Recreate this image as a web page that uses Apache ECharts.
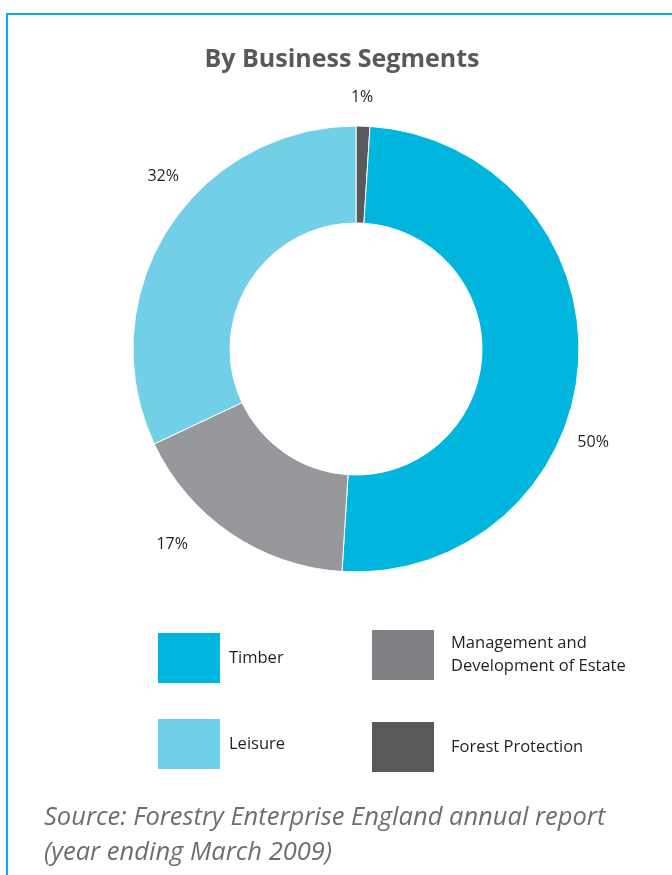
<!DOCTYPE html>
<html><head><meta charset="utf-8">
<script src="https://cdn.jsdelivr.net/npm/echarts@6/dist/echarts.min.js"></script>
<style>html,body{margin:0;padding:0;background:#fff}#c{width:672px;height:875px}</style>
</head><body><div id="c"></div>
<script>
const categories = ['Forest Protection', 'Timber', 'Management and\nDevelopment of Estate', 'Leisure'];
const values = [1, 50, 17, 32];
const sliceColors = ['#58595b', '#00b5de', '#97989c', '#71cfe8'];
const legendColors = {'Timber':'#00b5de','Leisure':'#71d0e9','Management and\nDevelopment of Estate':'#808185','Forest Protection':'#58595b'};
// label placement: [angle clockwise from top in degrees, distance from centre]
const labelPlace = [[1.4, 252], [111.6, 255], [223.3, 268], [311.9, 259]];
const CX = 356, CY = 349;

const chart = echarts.init(document.getElementById('c'), null, {renderer: 'canvas'});
chart.setOption({
  backgroundColor: '#fff',
  animation: false,
  title: [
    {text: 'By Business Segments', left: 342, top: 47, textAlign: 'center', padding: 0,
     textStyle: {fontFamily: 'Open Sans', fontWeight: 'bold', fontSize: 25, color: '#58595b'}},
    {text: 'Source: Forestry Enterprise England annual report\n(year ending March 2009)', left: 44, top: 800, padding: 0,
     textStyle: {fontFamily: 'Open Sans', fontStyle: 'italic', fontWeight: 'normal', fontSize: 25.5, lineHeight: 35, color: '#6d6e71'}}
  ],
  graphic: [{type: 'rect', shape: {x: 7, y: 14, width: 700, height: 900}, style: {fill: 'none', stroke: '#00b4dc', lineWidth: 2}}],
  legend: [
    {orient: 'vertical', left: 156, top: 631, padding: 0, itemWidth: 64, itemHeight: 52, itemGap: 32, icon: 'rect',
     data: ['Timber', 'Leisure'].map(n => ({name: n, itemStyle: {color: legendColors[n]}})),
     textStyle: {fontFamily: 'Open Sans', fontSize: 16.5, color: '#231f20', padding: [3, 0, 0, 3]}, selectedMode: false},
    {orient: 'vertical', left: 370, top: 628, padding: 0, itemWidth: 64, itemHeight: 52, itemGap: 38, icon: 'rect',
     data: [categories[2], categories[0]].map(n => ({name: n, itemStyle: {color: legendColors[n]}})),
     textStyle: {fontFamily: 'Open Sans', fontSize: 16.5, color: '#231f20', lineHeight: 23, padding: [3, 0, 0, 11]}, selectedMode: false}
  ],
  series: [{
    type: 'pie', center: [CX, CY], radius: [126, 223], startAngle: 90, clockwise: true,
    avoidLabelOverlap: false,
    itemStyle: {borderColor: '#fff', borderWidth: 1},
    label: {show: true, position: 'outside', formatter: '{c}%', fontFamily: 'Open Sans', fontSize: 16, color: '#231f20'},
    labelLine: {show: false},
    labelLayout: function (p) {
      const pl = labelPlace[p.dataIndex];
      const a = pl[0] * Math.PI / 180;
      return {x: CX + pl[1] * Math.sin(a), y: CY - pl[1] * Math.cos(a), align: 'center', verticalAlign: 'middle'};
    },
    emphasis: {disabled: true},
    data: categories.map((n, i) => ({name: n, value: values[i], itemStyle: {color: sliceColors[i]}}))
  }]
});
</script></body></html>
